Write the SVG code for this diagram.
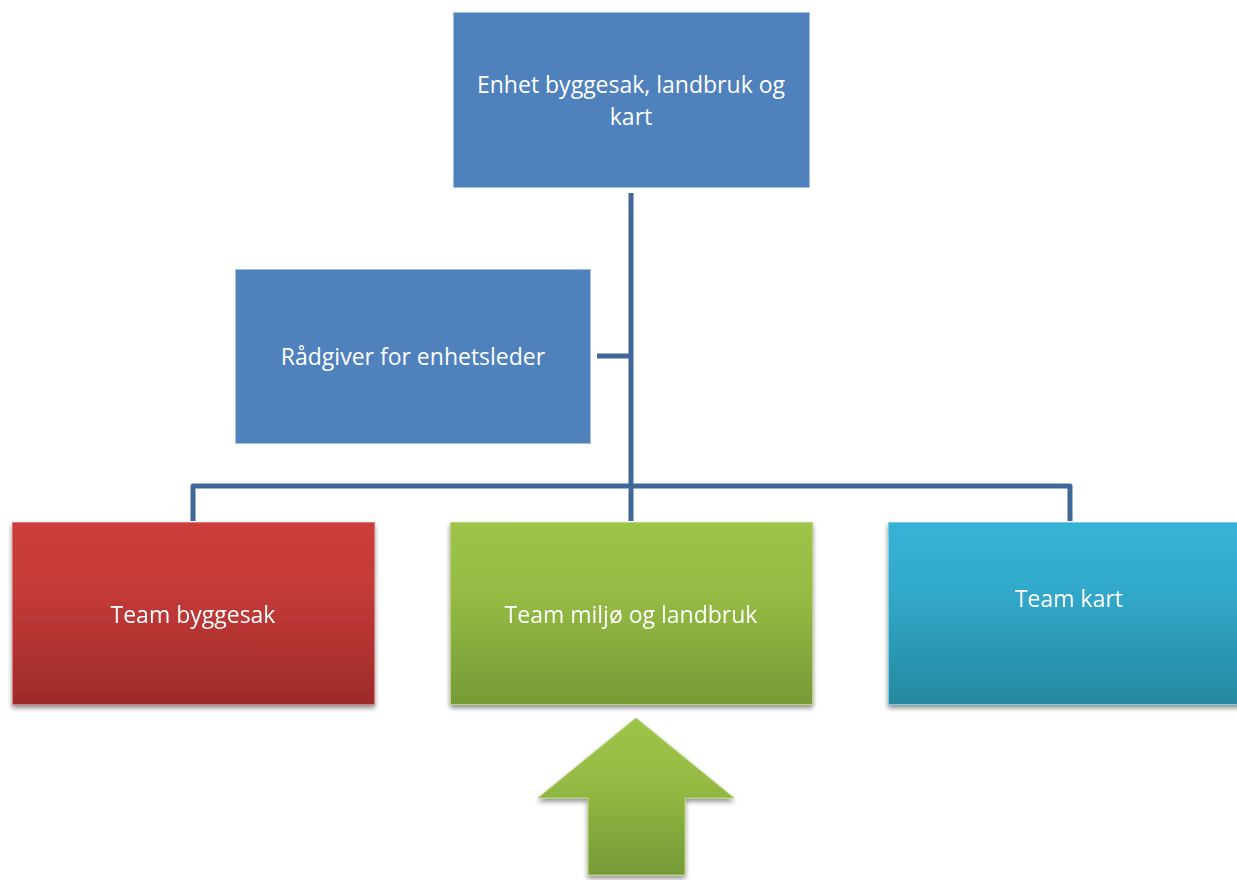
<svg xmlns="http://www.w3.org/2000/svg" width="1237" height="880" viewBox="0 0 1237 880">
<style>
.lbl{font-family:"Open Sans","Liberation Sans",sans-serif;font-size:23px;fill:#ffffff;text-anchor:middle}
.conn{fill:none;stroke:#41679A;stroke-width:5;stroke-linejoin:round}
.blue{fill:#4F81BD;stroke:#A7BFDE;stroke-width:1}
</style>
<defs>
<linearGradient id="gRed" x1="0" y1="0" x2="0" y2="1"><stop offset="0" stop-color="#CD3D3A"/><stop offset="0.4" stop-color="#C23A37"/><stop offset="1" stop-color="#9D2B2A"/></linearGradient>
<linearGradient id="gGreen" x1="0" y1="0" x2="0" y2="1"><stop offset="0" stop-color="#9DC447"/><stop offset="0.4" stop-color="#95BB44"/><stop offset="1" stop-color="#769A36"/></linearGradient>
<linearGradient id="gCyan" x1="0" y1="0" x2="0" y2="1"><stop offset="0" stop-color="#36B3D7"/><stop offset="0.4" stop-color="#32A8C9"/><stop offset="1" stop-color="#25889F"/></linearGradient>
<filter id="sh" x="-10%" y="-10%" width="120%" height="130%"><feGaussianBlur in="SourceAlpha" stdDeviation="2.5"/><feOffset dx="0" dy="3" result="b"/><feComponentTransfer><feFuncA type="linear" slope="0.45"/></feComponentTransfer><feMerge><feMergeNode/><feMergeNode in="SourceGraphic"/></feMerge></filter>
</defs>
<g id="connectors">
<path class="conn" d="M631,193 V521"/>
<path class="conn" d="M597,356 H631"/>
<path class="conn" d="M193,521 V486 H1070 V521"/>
</g>
<g id="n-top">
<rect class="blue" x="453.5" y="12.5" width="356" height="175"/>
<text class="lbl" x="631" y="93">Enhet byggesak, landbruk og</text>
<text class="lbl" x="631" y="125">kart</text>
</g>
<g id="n-advisor">
<rect class="blue" x="235.5" y="269.5" width="355" height="174"/>
<text class="lbl" x="413" y="365">Rådgiver for enhetsleder</text>
</g>
<g id="n-byggesak" filter="url(#sh)">
<rect x="12.5" y="522.5" width="362" height="182" fill="url(#gRed)" stroke="#D97B79" stroke-width="1"/>
<text class="lbl" x="193" y="623">Team byggesak</text>
</g>
<g id="n-miljo" filter="url(#sh)">
<rect x="450.5" y="522.5" width="362" height="182" fill="url(#gGreen)" stroke="#B7D67E" stroke-width="1"/>
<text class="lbl" x="631" y="623">Team miljø og landbruk</text>
</g>
<g id="n-kart" filter="url(#sh)">
<rect x="888.5" y="522.5" width="360" height="182" fill="url(#gCyan)" stroke="#7CCBE3" stroke-width="1"/>
<text class="lbl" x="1069" y="607">Team kart</text>
</g>
<g id="arrow" filter="url(#sh)">
<polygon points="636,718 734,798 685,798 685,875 588,875 588,798 538,798" fill="url(#gGreen)" stroke="#B7D67E" stroke-width="1"/>
</g>
</svg>
